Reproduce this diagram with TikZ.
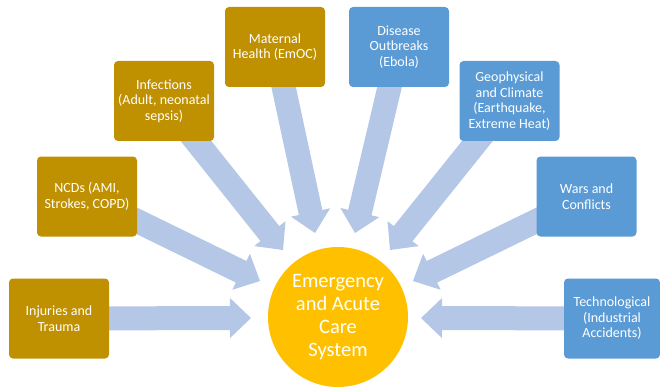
\documentclass[tikz,border=0pt]{standalone}
\usepackage{fontspec}
\setmainfont{Carlito}
\usetikzlibrary{calc,backgrounds}

\definecolor{gold}{HTML}{BF9000}
\definecolor{steel}{HTML}{5B9BD5}
\definecolor{sun}{HTML}{FFC000}
\definecolor{flowblue}{HTML}{B4C7E7}

\tikzset{
  box/.style={rounded corners=4pt, text=white, align=center, inner sep=2pt,
    minimum width=100pt, minimum height=80pt, font=\fontsize{14}{15.5}\selectfont},
  goldbox/.style={box, fill=gold},
  steelbox/.style={box, fill=steel},
  flow/.style={fill=flowblue}
}

% wide arrow from a box centre to a tip point
\newcommand{\blockarrow}[2]{%
  \fill[flow] let \p1=($(#2)-(#1.center)$), \n1={atan2(\y1,\x1)} in
    ($(#1.center)+({\n1+90}:12pt)$) -- ($(#2)+({\n1+180}:21pt)+({\n1+90}:12pt)$)
    -- ($(#2)+({\n1+180}:21pt)+({\n1+90}:20pt)$) -- (#2)
    -- ($(#2)+({\n1+180}:21pt)+({\n1-90}:20pt)$) -- ($(#2)+({\n1+180}:21pt)+({\n1-90}:12pt)$)
    -- ($(#1.center)+({\n1-90}:12pt)$) -- cycle;}

\begin{document}
\begin{tikzpicture}[x=1pt, y=-1pt]
	\useasboundingbox (0,0) rectangle (660,390);

	\node[goldbox] (injuries) at (59,318.5) {Injuries and\\Trauma};
	\node[goldbox] (ncds) at (87,196.5) {NCDs (AMI,\\Strokes, COPD)};
	\node[goldbox] (infections) at (164,101) {Infections\\(Adult, neonatal\\sepsis)};
	\node[goldbox] (maternal) at (275,47) {Maternal\\Health (EmOC)};

	\node[steelbox] (disease) at (399,47) {Disease\\Outbreaks\\(Ebola)};
	\node[steelbox] (geo) at (509.5,101) {Geophysical\\and Climate\\(Earthquake,\\Extreme Heat)};
	\node[steelbox] (wars) at (586.5,196.5) {Wars and\\Conflicts};
	\node[steelbox, minimum width=96pt] (tech) at (612,318.5) {Technological\\(Industrial\\Accidents)};

	\node[circle, fill=sun, minimum size=140pt, inner sep=0pt, text=white, align=center,
	  font=\fontsize{20.5}{23}\selectfont] (eacs) at (338,317) {Emergency\\and Acute\\Care\\System};

	% arrow tips round the circle
	\coordinate (t1) at (251,318);
	\coordinate (t2) at (260,281);
	\coordinate (t3) at (283,250);
	\coordinate (t4) at (315,233);
	\coordinate (t5) at (355,233);
	\coordinate (t6) at (390,250);
	\coordinate (t7) at (413,281);
	\coordinate (t8) at (421,318);

	\begin{scope}[on background layer]
		\blockarrow{injuries}{t1}
		\blockarrow{ncds}{t2}
		\blockarrow{infections}{t3}
		\blockarrow{maternal}{t4}
		\blockarrow{disease}{t5}
		\blockarrow{geo}{t6}
		\blockarrow{wars}{t7}
		\blockarrow{tech}{t8}
	\end{scope}
\end{tikzpicture}
\end{document}
